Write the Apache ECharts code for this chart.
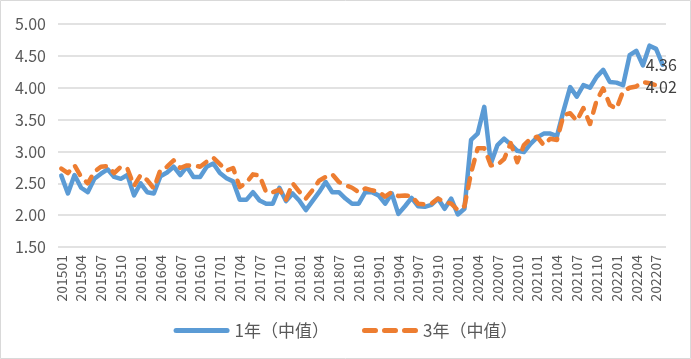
<!DOCTYPE html>
<html><head><meta charset="utf-8">
<script src="https://cdn.jsdelivr.net/npm/echarts@6/dist/echarts.min.js"></script>
<style>html,body{margin:0;padding:0;background:#fff}#c{width:691px;height:359px}</style>
</head><body><div id="c"></div>
<script>
const months = ["201501","201502","201503","201504","201505","201506","201507","201508","201509","201510","201511","201512",
"201601","201602","201603","201604","201605","201606","201607","201608","201609","201610","201611","201612",
"201701","201702","201703","201704","201705","201706","201707","201708","201709","201710","201711","201712",
"201801","201802","201803","201804","201805","201806","201807","201808","201809","201810","201811","201812",
"201901","201902","201903","201904","201905","201906","201907","201908","201909","201910","201911","201912",
"202001","202002","202003","202004","202005","202006","202007","202008","202009","202010","202011","202012",
"202101","202102","202103","202104","202105","202106","202107","202108","202109","202110","202111","202112",
"202201","202202","202203","202204","202205","202206","202207","202208"];
const oneYear = [2.62,2.34,2.63,2.43,2.36,2.57,2.65,2.72,2.60,2.57,2.63,2.31,
2.50,2.36,2.34,2.61,2.67,2.76,2.63,2.76,2.60,2.60,2.76,2.81,
2.66,2.58,2.53,2.24,2.24,2.36,2.23,2.18,2.18,2.43,2.22,2.34,
2.23,2.08,2.22,2.36,2.52,2.36,2.36,2.26,2.18,2.18,2.36,2.36,
2.31,2.18,2.34,2.02,2.14,2.27,2.14,2.13,2.16,2.26,2.10,2.26,
2.01,2.10,3.18,3.28,3.70,2.81,3.10,3.20,3.11,3.01,2.99,3.12,
3.22,3.28,3.28,3.24,3.64,4.01,3.86,4.04,4.00,4.17,4.28,4.09,
4.08,4.04,4.51,4.58,4.35,4.66,4.61,4.36];
const threeYear = [2.73,2.66,2.78,2.60,2.50,2.68,2.76,2.77,2.66,2.76,2.73,2.46,
2.63,2.55,2.42,2.71,2.76,2.86,2.74,2.78,2.78,2.76,2.84,2.90,
2.80,2.70,2.74,2.44,2.51,2.64,2.62,2.36,2.36,2.40,2.24,2.50,
2.37,2.26,2.39,2.54,2.60,2.64,2.52,2.47,2.43,2.36,2.42,2.39,
2.37,2.29,2.36,2.30,2.31,2.30,2.18,2.17,2.18,2.26,2.21,2.18,
2.08,2.14,2.66,3.05,3.05,2.78,2.79,2.88,3.13,2.83,3.10,3.20,
3.23,3.10,3.20,3.18,3.57,3.60,3.48,3.68,3.43,3.80,3.99,3.73,
3.67,3.94,4.00,4.02,4.09,4.07,4.04,4.02];
const seriesNames = ["1年（中值）","3年（中值）"];
const yTicks = {min:1.5, max:5, step:0.5};

const FONT = '"Noto Sans CJK SC", "Noto Sans", sans-serif';
const endLbl = {show:true, offset:[-22,0], distance:5, formatter:p=>Number(p.value).toFixed(2),
  color:'#404040', fontSize:16, fontFamily:FONT};
const chart = echarts.init(document.getElementById('c'));
chart.setOption({
  animation:false,
  backgroundColor:'#fff',
  graphic:[{type:'rect', shape:{x:0.5,y:0.5,width:690,height:358}, style:{fill:'none', stroke:'#d9d9d9', lineWidth:1}, silent:true, z:-1}],
  grid:{left:58, right:25, top:24, bottom:112, containLabel:false},
  legend:{bottom:15, left:'center', itemWidth:56, itemHeight:5, itemGap:33,
    textStyle:{color:'#595959', fontSize:17, fontFamily:FONT},
    data:[
      {name:seriesNames[0], icon:'path://M2.5,0H53.5A2.5,2.5,0,0,1,53.5,5H2.5A2.5,2.5,0,0,1,2.5,0Z', itemStyle:{color:'#5B9BD5'}},
      {name:seriesNames[1], icon:'path://M2.5,0H13.5A2.5,2.5,0,0,1,13.5,5H2.5A2.5,2.5,0,0,1,2.5,0Z M22.5,0H33.5A2.5,2.5,0,0,1,33.5,5H22.5A2.5,2.5,0,0,1,22.5,0Z M42.5,0H53.5A2.5,2.5,0,0,1,53.5,5H42.5A2.5,2.5,0,0,1,42.5,0Z', itemStyle:{color:'#ED7D31'}}
    ]},
  xAxis:{type:'category', data:months, boundaryGap:true,
    axisLine:{show:false}, axisTick:{show:false},
    axisLabel:{interval:2, rotate:90, color:'#595959', fontSize:14, fontFamily:FONT, margin:8}},
  yAxis:{type:'value', min:yTicks.min, max:yTicks.max, interval:yTicks.step,
    axisLine:{show:false}, axisTick:{show:false},
    axisLabel:{color:'#595959', fontSize:16, fontFamily:FONT, margin:12, formatter:v=>v.toFixed(2)},
    splitLine:{lineStyle:{color:'#d9d9d9', width:1.5}}},
  series:[
    {name:seriesNames[0], type:'line', data:oneYear, showSymbol:false, symbol:'none', endLabel:endLbl,
     lineStyle:{color:'#5B9BD5', width:4.5, cap:'round', join:'round'}, itemStyle:{color:'#5B9BD5'}},
    {name:seriesNames[1], type:'line', data:threeYear, showSymbol:false, symbol:'none', endLabel:endLbl,
     lineStyle:{color:'#ED7D31', width:4.5, type:[10,9], cap:'round', join:'round'}, itemStyle:{color:'#ED7D31'}}
  ]
});
</script></body></html>
